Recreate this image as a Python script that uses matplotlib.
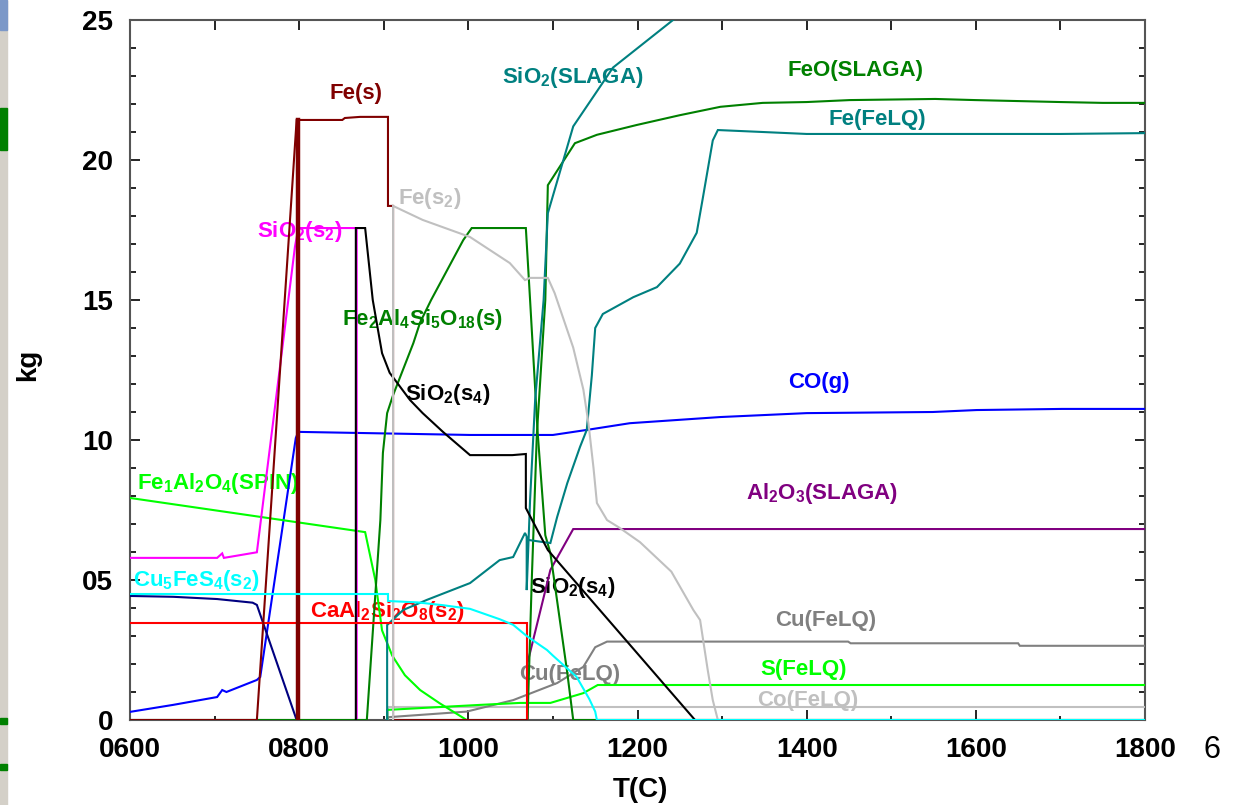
import matplotlib
matplotlib.use("Agg")
import matplotlib.pyplot as plt
from matplotlib.patches import Rectangle
from matplotlib.ticker import MultipleLocator

plt.rcParams['font.family'] = ['Liberation Sans', 'DejaVu Sans']
plt.rcParams['mathtext.fontset'] = 'custom'
plt.rcParams['mathtext.rm'] = 'Liberation Sans:bold'
plt.rcParams['mathtext.default'] = 'regular'

# ---- equilibrium amounts (kg) versus temperature (C) ----
fe_s_T = [600, 750, 797, 851, 854, 872, 905, 905, 911, 911, 1069]
fe_s_kg = [0, 0, 21.43, 21.43, 21.5, 21.54, 21.54, 18.36, 18.36, 0, 0]
fe_s_step_T = [799, 799]
fe_s_step_kg = [0, 21.43]

sio2_s2_T = [600, 703, 709, 711, 750, 795, 799, 868, 868]
sio2_s2_kg = [5.79, 5.79, 5.95, 5.79, 5.99, 16.9, 17.57, 17.57, 0]

sio2_s4_T = [867, 867, 878, 887, 898, 907, 931, 946, 970, 1002, 1052, 1068, 1068, 1094, 1268]
sio2_s4_kg = [0, 17.57, 17.57, 15.0, 13.1, 12.4, 11.43, 10.96, 10.29, 9.46, 9.46, 9.5, 7.57, 6.07, 0]

fe_s2_T = [911, 911, 946, 1002, 1049, 1067, 1073, 1094, 1102, 1124, 1136, 1142, 1148,
           1152, 1164, 1179, 1203, 1240, 1266, 1274, 1283, 1289, 1295]
fe_s2_kg = [0, 18.36, 17.86, 17.25, 16.32, 15.71, 15.79, 15.79, 15.25, 13.3, 11.8, 10.6, 9.0,
            7.75, 7.14, 6.86, 6.35, 5.3, 3.93, 3.57, 1.79, 0.71, 0]

co_g_T = [600, 651, 703, 709, 714, 750, 754, 796, 799, 1002, 1100, 1140, 1191, 1298,
          1400, 1549, 1601, 1702, 1800]
co_g_kg = [0.29, 0.54, 0.82, 1.07, 1.0, 1.43, 1.54, 10.07, 10.29, 10.18, 10.18, 10.36, 10.6, 10.82,
           10.96, 11.0, 11.07, 11.11, 11.11]

navy_T = [600, 651, 703, 745, 750, 797]
navy_kg = [4.43, 4.4, 4.32, 4.19, 4.11, 0]

cu5fes4_T = [600, 905, 905, 940, 970, 1002, 1037, 1053, 1069, 1093, 1100, 1128, 1143, 1150, 1152, 1800]
cu5fes4_kg = [4.5, 4.5, 4.25, 4.2, 4.1, 3.97, 3.6, 3.4, 3.0, 2.5, 2.3, 1.54, 0.75, 0.3, 0, 0]

caal2si2o8_T = [600, 1069, 1069]
caal2si2o8_kg = [3.46, 3.46, 0]

fe1al2o4_T = [600, 878, 890, 898, 910, 925, 943, 966, 998]
fe1al2o4_kg = [7.93, 6.71, 5.0, 3.2, 2.3, 1.6, 1.07, 0.6, 0]

fe2al4si5o18_T = [600, 880, 896, 899, 904, 911, 935, 943, 956, 994, 1004, 1068, 1073,
                  1082, 1091, 1097, 1117, 1124, 1800]
fe2al4si5o18_kg = [0, 0, 7.14, 9.54, 10.96, 11.6, 13.46, 14.2, 15.0, 17.14, 17.57, 17.57, 15.0,
                   10.25, 6.6, 5.96, 1.68, 0, 0]

feo_slaga_T = [1070, 1075, 1081, 1091, 1094, 1126, 1152, 1199, 1250, 1298, 1348, 1400,
               1451, 1552, 1599, 1700, 1750, 1800]
feo_slaga_kg = [0, 5.0, 10.2, 15.0, 19.1, 20.6, 20.9, 21.25, 21.6, 21.9, 22.04, 22.07,
                22.14, 22.18, 22.14, 22.07, 22.04, 22.04]

fe_felq_T = [904, 904, 923, 951, 1002, 1037, 1053, 1067, 1071, 1087, 1097, 1105, 1117, 1132,
             1140, 1146, 1150, 1159, 1183, 1195, 1223, 1250, 1270, 1277, 1289, 1295, 1348,
             1400, 1700, 1800]
fe_felq_kg = [0, 3.39, 3.93, 4.29, 4.89, 5.71, 5.82, 6.68, 6.43, 6.36, 6.32, 7.25, 8.46, 9.75,
              10.36, 12.3, 14.0, 14.5, 14.9, 15.1, 15.46, 16.3, 17.4, 18.6, 20.7, 21.07, 21.0,
              20.93, 20.93, 20.96]

sio2_slaga_T = [1069, 1069, 1073, 1079, 1089, 1094, 1124, 1171, 1242, 1274]
sio2_slaga_kg = [6.5, 4.64, 7.86, 11.43, 15.0, 18.1, 21.2, 23.3, 25.0, 25.75]

al2o3_slaga_T = [1070, 1070, 1097, 1124, 1800]
al2o3_slaga_kg = [0, 2.04, 5.36, 6.82, 6.82]

cu_felq_T = [905, 905, 998, 1053, 1105, 1136, 1150, 1164, 1449, 1452, 1650, 1652, 1800]
cu_felq_kg = [0, 0.1, 0.3, 0.71, 1.32, 1.9, 2.6, 2.8, 2.8, 2.74, 2.74, 2.65, 2.65]

s_felq_T = [904, 904, 946, 1014, 1061, 1097, 1136, 1153, 1800]
s_felq_kg = [0, 0.36, 0.43, 0.54, 0.61, 0.61, 0.96, 1.25, 1.25]

co_felq_T = [905, 905, 1800]
co_felq_kg = [0, 0.45, 0.45]

x_ticks = [600, 800, 1000, 1200, 1400, 1600, 1800]
x_tick_labels = ['0600', '0800', '1000', '1200', '1400', '1600', '1800']
y_ticks = [0, 5, 10, 15, 20, 25]
y_tick_labels = ['0', '05', '10', '15', '20', '25']

# ---- colours ----
DARKRED, MAGENTA, SILVER, DKGREEN = '#800000', '#FF00FF', '#C0C0C0', '#008000'
LIME, CYAN, RED, GRAY, TEAL = '#00FF00', '#00FFFF', '#FF0000', '#808080', '#008080'
BLUE, PURPLE, NAVY = '#0000FF', '#800080', '#000080'

fig = plt.figure(figsize=(12.34, 8.05), dpi=100)
ax = fig.add_axes([130 / 1234, 1 - 720 / 805, 1015 / 1234, 700 / 805])

series = [
    (co_felq_T, co_felq_kg, SILVER, 1.5),
    (cu_felq_T, cu_felq_kg, GRAY, 1.5),
    (s_felq_T, s_felq_kg, LIME, 1.5),
    (al2o3_slaga_T, al2o3_slaga_kg, PURPLE, 1.5),
    (co_g_T, co_g_kg, BLUE, 1.5),
    (navy_T, navy_kg, NAVY, 1.5),
    (fe1al2o4_T, fe1al2o4_kg, LIME, 1.5),
    (sio2_s2_T, sio2_s2_kg, MAGENTA, 1.5),
    (fe2al4si5o18_T, fe2al4si5o18_kg, DKGREEN, 1.5),
    (feo_slaga_T, feo_slaga_kg, DKGREEN, 1.5),
    (fe_felq_T, fe_felq_kg, TEAL, 1.5),
    (sio2_slaga_T, sio2_slaga_kg, TEAL, 1.5),
    (sio2_s4_T, sio2_s4_kg, 'black', 1.5),
    (caal2si2o8_T, caal2si2o8_kg, RED, 1.5),
    (fe_s_T, fe_s_kg, DARKRED, 1.5),
    (fe_s2_T, fe_s2_kg, SILVER, 1.5),
    (fe_s_step_T, fe_s_step_kg, DARKRED, 3.2),
    (cu5fes4_T, cu5fes4_kg, CYAN, 1.5),
]
for T, kg, c, lw in series:
    ax.plot(T, kg, color=c, lw=lw, zorder=3, solid_joinstyle='miter')

# ---- curve labels ----
labels = [
    ('Fe(s)', 836, 22.39, DARKRED),
    ('SiO$_2$(s$_2$)', 750, 17.43, MAGENTA),
    ('Fe(s$_2$)', 917, 18.64, SILVER),
    ('Fe$_2$Al$_4$Si$_5$O$_{18}$(s)', 851, 14.29, DKGREEN),
    ('SiO$_2$(s$_4$)', 925, 11.61, 'black'),
    ('Fe$_1$Al$_2$O$_4$(SPIN)', 608, 8.46, LIME),
    ('Cu$_5$FeS$_4$(s$_2$)', 603, 5.0, CYAN),
    ('CaAl$_2$Si$_2$O$_8$(s$_2$)', 813, 3.86, RED),
    ('SiO$_2$(s$_4$)', 1073, 4.75, 'black'),
    ('Cu(FeLQ)', 1060, 1.61, GRAY),
    ('SiO$_2$(SLAGA)', 1040, 22.93, TEAL),
    ('FeO(SLAGA)', 1377, 23.21, DKGREEN),
    ('Fe(FeLQ)', 1426, 21.43, TEAL),
    ('CO(g)', 1378, 12.07, BLUE),
    ('Al$_2$O$_3$(SLAGA)', 1328, 8.1, PURPLE),
    ('Cu(FeLQ)', 1363, 3.54, GRAY),
    ('S(FeLQ)', 1345, 1.82, LIME),
    ('Co(FeLQ)', 1341, 0.71, SILVER),
]
for txt, x, y, c in labels:
    ax.text(x, y, txt, color=c, fontsize=16, fontweight='bold',
            ha='left', va='center', zorder=2)

# ---- axes ----
ax.set_xlim(600, 1800)
ax.set_ylim(0, 25)
ax.set_xticks(x_ticks, x_tick_labels)
ax.set_yticks(y_ticks, y_tick_labels)
ax.xaxis.set_minor_locator(MultipleLocator(100))
ax.yaxis.set_minor_locator(MultipleLocator(1))
ax.tick_params(axis='both', which='major', direction='in', length=7, width=1.2,
               labelsize=20, pad=12, colors='black')
ax.tick_params(axis='x', which='minor', direction='in', length=3, width=1.2, bottom=True)
ax.tick_params(axis='y', which='both', right=True)
ax.tick_params(axis='y', which='minor', direction='in', length=4, width=1.2)
for lab in ax.get_xticklabels() + ax.get_yticklabels():
    lab.set_fontweight('bold')

top = ax.secondary_xaxis('top')
top.set_xticks(list(range(600, 1801, 100)))
top.tick_params(direction='in', length=7, width=1.2, labeltop=False)
top.spines['top'].set_visible(False)

for sp in ax.spines.values():
    sp.set_color('#555555')
    sp.set_linewidth(1.5)

ax.set_xlabel('T(C)', fontsize=20, fontweight='bold')
ax.xaxis.set_label_coords(0.5025, -0.1)
ax.xaxis.label.set_va('center')
ax.set_ylabel('kg', fontsize=20, fontweight='bold')
ax.yaxis.set_label_coords(-0.1005, 0.507)
ax.yaxis.label.set_va('center')

fig.text(1212 / 1234, 1 - 750 / 805, '6', fontsize=22, ha='center', va='center')

# ---- window frame strip on the left ----
W, H = 1234, 805
def strip(y0, y1, color, x1=7):
    fig.patches.append(Rectangle((0, 1 - y1 / H), x1 / W, (y1 - y0) / H,
                                 transform=fig.transFigure, color=color, zorder=0))
strip(0, 805, '#D4D0C8')
strip(0, 30, '#7C98C8')
strip(108, 150, '#008000')
strip(718, 724, '#008000')
strip(764, 770, '#008000')

fig.savefig('out.png', dpi=100)
